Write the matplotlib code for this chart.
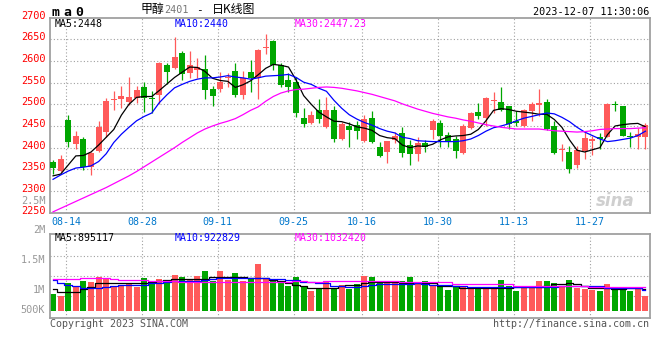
import numpy as np
import matplotlib
matplotlib.use("Agg")
import matplotlib.pyplot as plt
from matplotlib.transforms import blended_transform_factory, offset_copy

# ==========================================
# 1. DATOS (79 sesiones)
# ==========================================
apertura = [2367, 2346, 2464, 2408, 2420, 2356, 2393, 2437, 2510, 2512,
            2506, 2514, 2541, 2515, 2522, 2591, 2583, 2619, 2572, 2578,
            2581, 2535, 2535, 2560, 2577, 2522, 2575, 2560, 2630, 2646,
            2591, 2556, 2552, 2469, 2458, 2487, 2448, 2487, 2420, 2450,
            2452, 2416, 2468, 2401, 2390, 2418, 2433, 2406, 2385, 2410,
            2441, 2456, 2429, 2420, 2388, 2445, 2482, 2469, 2507, 2505,
            2496, 2462, 2450, 2484, 2499, 2505, 2450, 2394, 2389, 2359,
            2393, 2416, 2425, 2425, 2499, 2496, 2426, 2424, 2424]
cierre = [2354, 2374, 2412, 2427, 2355, 2388, 2448, 2508, 2513, 2520,
          2518, 2532, 2514, 2512, 2596, 2575, 2610, 2570, 2591, 2586,
          2533, 2520, 2552, 2564, 2522, 2560, 2560, 2625, 2633, 2591,
          2545, 2539, 2479, 2455, 2475, 2466, 2487, 2420, 2455, 2441,
          2439, 2465, 2414, 2380, 2415, 2428, 2387, 2385, 2410, 2401,
          2462, 2427, 2412, 2393, 2450, 2479, 2472, 2515, 2509, 2487,
          2454, 2458, 2488, 2500, 2501, 2444, 2388, 2396, 2351, 2395,
          2422, 2419, 2421, 2501, 2498, 2428, 2425, 2431, 2452]
maximo = [2372, 2383, 2475, 2438, 2425, 2391, 2462, 2514, 2531, 2542,
          2562, 2542, 2552, 2531, 2598, 2595, 2655, 2622, 2624, 2607,
          2614, 2542, 2575, 2573, 2596, 2577, 2602, 2627, 2662, 2648,
          2595, 2573, 2562, 2491, 2485, 2512, 2516, 2496, 2460, 2460,
          2462, 2475, 2485, 2414, 2416, 2435, 2447, 2418, 2424, 2418,
          2466, 2464, 2437, 2426, 2454, 2482, 2504, 2517, 2528, 2539,
          2497, 2484, 2490, 2505, 2536, 2513, 2462, 2408, 2403, 2403,
          2435, 2427, 2434, 2503, 2508, 2497, 2437, 2445, 2456]
minimo = [2339, 2343, 2402, 2396, 2348, 2337, 2391, 2425, 2487, 2491,
          2498, 2502, 2483, 2479, 2501, 2548, 2581, 2555, 2560, 2560,
          2512, 2495, 2528, 2541, 2518, 2512, 2529, 2513, 2617, 2579,
          2541, 2529, 2470, 2448, 2454, 2456, 2446, 2414, 2418, 2402,
          2420, 2414, 2410, 2378, 2365, 2410, 2379, 2360, 2370, 2390,
          2420, 2401, 2401, 2376, 2386, 2442, 2465, 2450, 2481, 2485,
          2444, 2450, 2448, 2462, 2472, 2441, 2385, 2370, 2342, 2353,
          2375, 2383, 2398, 2425, 2485, 2426, 2402, 2398, 2398]

# Medias moviles del precio
ma5 = [2335, 2339, 2360, 2381, 2382, 2390, 2406, 2424, 2442, 2475,
       2500, 2516, 2518, 2518, 2532, 2547, 2562, 2574, 2586, 2585,
       2576, 2560, 2555, 2553, 2539, 2545, 2554, 2568, 2583, 2592,
       2590, 2586, 2556, 2520, 2500, 2482, 2471, 2461, 2460, 2455,
       2448, 2445, 2440, 2428, 2423, 2421, 2406, 2400, 2404, 2403,
       2408, 2418, 2425, 2427, 2428, 2431, 2442, 2462, 2486, 2490,
       2488, 2484, 2482, 2480, 2477, 2477, 2465, 2447, 2418, 2394,
       2390, 2395, 2400, 2430, 2450, 2453, 2455, 2456, 2448]
ma10 = [2327, 2337, 2346, 2353, 2355, 2358, 2368, 2386, 2412, 2431,
        2447, 2462, 2472, 2480, 2504, 2522, 2538, 2546, 2553, 2558,
        2561, 2561, 2563, 2566, 2563, 2561, 2558, 2561, 2565, 2566,
        2567, 2569, 2562, 2551, 2546, 2537, 2530, 2509, 2491, 2476,
        2466, 2458, 2452, 2444, 2438, 2434, 2424, 2421, 2416, 2415,
        2414, 2414, 2414, 2414, 2416, 2420, 2428, 2438, 2446, 2450,
        2455, 2462, 2468, 2472, 2476, 2480, 2478, 2470, 2460, 2447,
        2436, 2428, 2420, 2414, 2416, 2419, 2422, 2428, 2438]
ma30 = [2252, 2260, 2268, 2276, 2284, 2292, 2300, 2308, 2317, 2326,
        2335, 2345, 2356, 2367, 2378, 2389, 2400, 2412, 2423, 2434,
        2443, 2450, 2456, 2461, 2467, 2476, 2486, 2494, 2507, 2518,
        2526, 2531, 2534, 2535, 2537, 2539, 2540, 2539, 2537, 2534,
        2531, 2527, 2523, 2518, 2513, 2508, 2501, 2495, 2489, 2484,
        2479, 2475, 2471, 2468, 2464, 2461, 2457, 2453, 2450, 2447,
        2445, 2443, 2443, 2443, 2443, 2441, 2439, 2438, 2437, 2436,
        2437, 2439, 2442, 2443, 2444, 2444, 2444, 2445, 2446]

# Volumen (miles de lotes) y sus medias
volumen = [961, 928, 1146, 1096, 1180, 1163, 1243, 1209, 1096, 1096,
           1141, 1079, 1231, 1168, 1214, 1151, 1281, 1247, 1197, 1264,
           1354, 1180, 1354, 1197, 1315, 1185, 1225, 1466, 1214, 1197,
           1180, 1096, 1247, 1096, 1017, 1045, 1168, 1057, 1113, 1045,
           1124, 1264, 1242, 1180, 1141, 1180, 1180, 1242, 1141, 1180,
           1096, 1096, 1029, 1074, 1096, 1074, 1074, 1074, 1074, 1197,
           1096, 1012, 1074, 1074, 1180, 1180, 1141, 1084, 1197, 1067,
           1045, 1029, 1012, 1130, 1074, 1074, 1012, 1057, 933]
vol_ma5 = [1040, 990, 990, 990, 1040, 1074, 1152, 1152, 1152, 1141,
           1141, 1141, 1152, 1160, 1180, 1190, 1209, 1209, 1209, 1209,
           1209, 1242, 1242, 1242, 1242, 1242, 1225, 1225, 1225, 1200,
           1185, 1150, 1113, 1090, 1070, 1067, 1062, 1057, 1090, 1113,
           1113, 1140, 1160, 1168, 1168, 1168, 1150, 1141, 1141, 1141,
           1141, 1096, 1096, 1096, 1057, 1057, 1057, 1057, 1057, 1057,
           1057, 1074, 1074, 1074, 1074, 1100, 1130, 1130, 1141, 1130,
           1100, 1067, 1067, 1057, 1045, 1045, 1057, 1057, 1045]
vol_ma10 = [1197, 1150, 1113, 1090, 1067, 1067, 1067, 1080, 1096, 1105,
            1113, 1113, 1113, 1141, 1150, 1160, 1180, 1180, 1180, 1180,
            1190, 1210, 1225, 1225, 1225, 1225, 1225, 1225, 1225, 1215,
            1209, 1200, 1190, 1168, 1160, 1150, 1141, 1096, 1090, 1074,
            1074, 1100, 1120, 1130, 1130, 1130, 1130, 1130, 1141, 1130,
            1120, 1113, 1113, 1100, 1090, 1080, 1074, 1074, 1074, 1074,
            1074, 1074, 1074, 1074, 1074, 1074, 1080, 1096, 1096, 1090,
            1090, 1090, 1090, 1067, 1067, 1067, 1067, 1057, 1030]
vol_ma30 = [1219, 1219, 1214, 1214, 1225, 1230, 1236, 1230, 1220, 1200,
            1197, 1197, 1190, 1185, 1185, 1180, 1175, 1170, 1168, 1165,
            1160, 1158, 1158, 1158, 1158, 1158, 1158, 1158, 1158, 1158,
            1158, 1165, 1180, 1175, 1170, 1168, 1175, 1180, 1180, 1180,
            1180, 1180, 1180, 1180, 1180, 1180, 1158, 1158, 1158, 1158,
            1158, 1158, 1158, 1124, 1124, 1124, 1124, 1124, 1124, 1124,
            1124, 1096, 1096, 1096, 1096, 1096, 1096, 1096, 1096, 1096,
            1096, 1085, 1085, 1085, 1080, 1080, 1078, 1076, 1075]

fechas_idx = [2, 12, 22, 32, 41, 51, 61, 71]
fechas_txt = ['08-14', '08-28', '09-11', '09-25', '10-16', '10-30', '11-13', '11-27']
precio_ticks = [2250, 2300, 2350, 2400, 2450, 2500, 2550, 2600, 2650, 2700]
vol_ticks = [1000, 1500, 2000, 2500]
vol_ticks_txt = ['1M', '1.5M', '2M', '2.5M']

# ==========================================
# 2. ESTILO
# ==========================================
ROJO = '#ff5a5a'
VERDE = '#00a600'
GRIS = '#a0a0a0'
MONO = 'DejaVu Sans Mono'
plt.rcParams['font.family'] = ['DejaVu Sans Mono', 'Noto Sans CJK SC']

W, H = 660, 360
fig = plt.figure(figsize=(W / 100, H / 100), dpi=100)


def caja(x0, y0, x1, y1):
    # convierte pixeles (origen arriba-izquierda) a fracciones de figura
    return [x0 / W, 1 - y1 / H, (x1 - x0) / W, (y1 - y0) / H]


ax = fig.add_axes(caja(50, 17.6, 650, 212.7))
axv = fig.add_axes(caja(50, 234.3, 650, 317.7))

X = np.arange(len(cierre))
o = np.array(apertura, float)
c = np.array(cierre, float)
hi = np.array(maximo, float)
lo = np.array(minimo, float)
colores = np.where(c >= o, ROJO, VERDE)

# ==========================================
# 3. PANEL DE PRECIOS (velas)
# ==========================================
for p in precio_ticks[1:-1]:
    ax.axhline(p, color=GRIS, lw=0.8, ls=(0, (1, 2)), zorder=0)
for i in fechas_idx:
    ax.axvline(i - 0.3, color=GRIS, lw=0.8, ls=(0, (1, 2)), zorder=0)

ax.vlines(X, lo, hi, colors=colores, lw=0.9, zorder=2)
cuerpo = np.maximum(np.abs(c - o), 3)
ax.bar(X, cuerpo, bottom=np.minimum(o, c), width=0.79, color=colores, linewidth=0, zorder=3)

ax.plot(X, ma5, color='black', lw=0.9, zorder=4)
ax.plot(X, ma10, color='#0000ff', lw=0.9, zorder=4)
ax.plot(X, ma30, color='#ff00ff', lw=0.9, zorder=4)

ax.set_xlim(-0.4, 78.6)
ax.set_ylim(2250, 2700)
ax.set_xticks([])
ax.set_yticks([])
for s in ax.spines.values():
    s.set_color(GRIS)
    s.set_linewidth(1.3)

trans_p = offset_copy(blended_transform_factory(ax.transAxes, ax.transData), fig=fig, y=2, units='dots')
for p in precio_ticks:
    ax.text(-0.008, p, str(p), transform=trans_p, ha='right', va='center',
            color='#ff0000', fontsize=7.4, family=MONO, clip_on=False)

for i, t in zip(fechas_idx, fechas_txt):
    ax.text(i - 0.3, -0.047, t, transform=blended_transform_factory(ax.transData, ax.transAxes),
            ha='center', va='center', color='#0077cc', fontsize=7.2, family=MONO, clip_on=False)

ax.text(0.0085, 0.965, 'MA5:2448', transform=ax.transAxes, color='black', fontsize=7.1, va='center', family=MONO)
ax.text(0.2075, 0.965, 'MA10:2440', transform=ax.transAxes, color='#0000ff', fontsize=7.1, va='center', family=MONO)
ax.text(0.4075, 0.965, 'MA30:2447.23', transform=ax.transAxes, color='#ff00ff', fontsize=7.1, va='center', family=MONO)

# marca de agua sina
ax.text(0.975, 0.06, 'sina', transform=ax.transAxes, ha='right', va='center', color='#cfcfcf',
        fontsize=12, fontweight='bold', style='italic', family='DejaVu Sans')

# ==========================================
# 4. PANEL DE VOLUMEN
# ==========================================
VOL_BASE = 680
for f in (0.26, 0.5, 0.74):
    axv.axhline(562 + f * (1966 - 562), color=GRIS, lw=0.8, ls=(0, (1, 2)), zorder=0)
for i in fechas_idx:
    axv.axvline(i - 0.3, color=GRIS, lw=0.8, ls=(0, (1, 2)), zorder=0)

vol = np.array(volumen, float)
axv.bar(X, vol - VOL_BASE, bottom=VOL_BASE, width=0.79, color=colores, linewidth=0, zorder=2)
axv.plot(X, vol_ma5, color='black', lw=0.9, drawstyle='steps-mid', zorder=3)
axv.plot(X, vol_ma10, color='#0000ff', lw=0.9, drawstyle='steps-mid', zorder=3)
axv.plot(X, vol_ma30, color='#ff00ff', lw=0.9, drawstyle='steps-mid', zorder=3)

axv.set_xlim(-0.4, 78.6)
axv.set_ylim(562, 1966)
axv.set_xticks([])
axv.set_yticks([])
for s in axv.spines.values():
    s.set_color(GRIS)
    s.set_linewidth(1.3)

trans_v = offset_copy(blended_transform_factory(axv.transAxes, axv.transData), fig=fig, y=2, units='dots')
for v, t in zip(vol_ticks, vol_ticks_txt):
    axv.text(-0.008, v, t, transform=trans_v, ha='right', va='center',
             color='#999999', fontsize=7.4, family=MONO, clip_on=False)
axv.text(-0.008, 0.09, '500K', transform=axv.transAxes, ha='right', va='center',
         color='#999999', fontsize=7.4, family=MONO, clip_on=False)

axv.text(0.0085, 0.955, 'MA5:895117', transform=axv.transAxes, color='black', fontsize=7.1, va='center', family=MONO)
axv.text(0.2075, 0.955, 'MA10:922829', transform=axv.transAxes, color='#0000ff', fontsize=7.1, va='center', family=MONO)
axv.text(0.4075, 0.955, 'MA30:1032420', transform=axv.transAxes, color='#ff00ff', fontsize=7.1, va='center', family=MONO)

# ==========================================
# 5. TEXTOS DE CABECERA Y PIE
# ==========================================
for k, letra in enumerate(['m', 'a', '0']):
    fig.text((52 + 11.7 * k) / W, 1 - 12 / H, letra, fontsize=9.5, fontweight='bold', va='center', family=MONO)
fig.text(140 / W, 1 - 10 / H, '甲醇', fontsize=8.6, va='center', family='Noto Sans CJK SC')
fig.text(164 / W, 1 - 10 / H, '2401', fontsize=7.3, va='center', color='#777777', family=MONO)
fig.text(196 / W, 1 - 10 / H, '-', fontsize=8, va='center', family=MONO)
fig.text(212 / W, 1 - 10 / H, '日K线图', fontsize=8.6, va='center', family='Noto Sans CJK SC')
fig.text(649 / W, 1 - 12 / H, '2023-12-07 11:30:06', fontsize=7.3, ha='right', va='center', family=MONO)

fig.text(50 / W, 1 - 324 / H, 'Copyright 2023 SINA.COM', fontsize=7.2, va='center', color='#555555', family=MONO)
fig.text(649 / W, 1 - 324 / H, 'http://finance.sina.com.cn', fontsize=7.2, ha='right', va='center',
         color='#555555', family=MONO)

fig.savefig('out.png', dpi=100)
